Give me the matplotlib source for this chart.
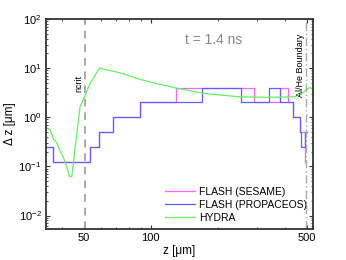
import numpy as np
import matplotlib.pyplot as plt
from matplotlib.ticker import FixedLocator, FixedFormatter, LogLocator, NullFormatter

plt.rcParams['font.family'] = ['Liberation Sans', 'DejaVu Sans']
plt.rcParams['mathtext.default'] = 'regular'

# FLASH (SESAME) step profile: bin edges [um] and cell size [um]
sesame_edges = [33.8, 36.4, 53.6, 58.9, 67.8, 89.1, 130, 291, 378, 413, 434, 464, 492, 493]
sesame_dz = [0.25, 0.125, 0.25, 0.5, 1, 2, 4, 2, 4, 2, 1, 0.5, 0.125]

# FLASH (PROPACEOS) step profile
prop_edges = [33.8, 36.4, 53.6, 58.9, 67.8, 89.1, 170, 253, 337, 378, 434, 464, 471, 492, 500]
prop_dz = [0.25, 0.125, 0.25, 0.5, 1, 2, 4, 2, 4, 2, 1, 0.5, 0.25, 0.5]

# HYDRA zone size
hydra_z = [33.8, 35.4, 36.6, 37.6, 38.5, 40.6, 42.0, 43.2, 44.3, 45.0, 46.6, 48.2, 50.8,
           53.5, 58.9, 72.9, 89.6, 99.4, 130.9, 178.5, 251.7, 331, 436, 467, 501, 518, 534]
hydra_dz = [0.63, 0.55, 0.36, 0.32, 0.25, 0.15, 0.10, 0.062, 0.062, 0.12, 0.47, 1.64, 2.8,
            4.9, 10.0, 8.0, 5.9, 5.2, 3.9, 3.0, 2.6, 2.55, 2.6, 2.83, 3.7, 4.06, 3.6]

z_ncrit = 50.8
z_boundary = 498

fig = plt.figure(figsize=(3.46, 2.6), dpi=100)
ax = fig.add_axes([0.132, 0.119, 0.773, 0.808])

def step_line(edges, vals):
    x = np.repeat(edges, 2)[1:-1]
    y = np.repeat(vals, 2)
    return x, y

x, y = step_line(sesame_edges, sesame_dz)
ax.plot(x, y, color='#ff66ff', lw=0.9, label='FLASH (SESAME)')
x, y = step_line(prop_edges, prop_dz)
ax.plot(x, y, color='#6060ff', lw=0.9, label='FLASH (PROPACEOS)')
ax.plot(hydra_z, hydra_dz, color='#66ee66', lw=0.9, label='HYDRA')

ax.axvline(z_ncrit, color='#aaaaaa', ls=(0, (4, 3)), lw=1.4)
ax.axvline(z_boundary, color='#aaaaaa', ls=(0, (6, 2, 1, 2)), lw=1.0)

ax.text(z_ncrit * 0.985, 3.3, 'ncrit', rotation=90, ha='right', va='bottom', fontsize=6.5)
ax.text(z_boundary * 0.985, 2.6, 'Al/He Boundary', rotation=90, ha='right', va='bottom',
        fontsize=6.5)
ax.text(192, 38, 't = 1.4 ns', color='#888888', fontsize=10, ha='center', va='center')

ax.set_xscale('log')
ax.set_yscale('log')
ax.set_xlim(33.8, 534)
ax.set_ylim(0.0053, 100)

ax.xaxis.set_major_locator(FixedLocator([50, 100, 500]))
ax.xaxis.set_major_formatter(FixedFormatter(['50', '100', '500']))
ax.xaxis.set_minor_locator(LogLocator(base=10, subs=np.arange(2, 10), numticks=20))
ax.xaxis.set_minor_formatter(NullFormatter())
ax.yaxis.set_minor_locator(LogLocator(base=10, subs=np.arange(2, 10), numticks=20))
ax.yaxis.set_minor_formatter(NullFormatter())

ax.tick_params(which='both', direction='in', top=True, right=True, labelsize=8,
               color='#333333', pad=3)
ax.tick_params(which='major', length=3)
ax.tick_params(which='minor', length=1.5)
for s in ax.spines.values():
    s.set_color('#333333')
    s.set_linewidth(1.3)

ax.set_xlabel('z [\u03bcm]', fontsize=8.5, labelpad=1)
ax.set_ylabel('\u0394 z [\u03bcm]', fontsize=8.5, labelpad=2)

ax.legend(loc='lower right', frameon=False, fontsize=7.5, handlelength=2.8,
          labelspacing=0.3, borderaxespad=0.2, handletextpad=0.4)

fig.savefig('out.png', dpi=100)
